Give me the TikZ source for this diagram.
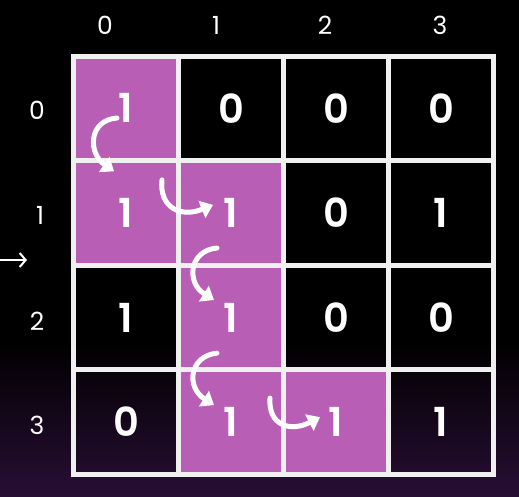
\documentclass[tikz,border=0pt]{standalone}
\usepackage{fontspec}
\setmainfont{Poppins}
\newfontfamily\numfont{Poppins SemiBold}
\usetikzlibrary{arrows.meta}
\definecolor{cellpurple}{RGB}{184,94,180}
\definecolor{gridwhite}{RGB}{240,240,240}
\definecolor{bgpurple}{RGB}{40,14,52}
\tikzset{
  cellbox/.style={minimum width=105pt,minimum height=104.6pt,inner sep=0pt,text=white,font=\fontsize{40}{40}\numfont},
  hl/.style={cellbox,fill=cellpurple},
  idxlabel/.style={text=white,font=\fontsize{25}{25}\selectfont,inner sep=0pt},
  curvearrow/.style={draw=white,line width=5pt,line cap=round,-{Triangle[width=18pt,length=12pt]}}
}
\begin{document}
\begin{tikzpicture}[x=1pt,y=-1pt]
\useasboundingbox (0,0) rectangle (519,496);
\fill[black] (0,0) rectangle (519,496);
\shade[top color=black,bottom color=bgpurple] (0,340) rectangle (519,496);
% cells
\node[hl] (c00) at (126,108.3) {1};
\node[cellbox] (c01) at (231,108.3) {0};
\node[cellbox] (c02) at (336,108.3) {0};
\node[cellbox] (c03) at (441,108.3) {0};
\node[hl] (c10) at (126,212.9) {1};
\node[hl] (c11) at (231,212.9) {1};
\node[cellbox] (c12) at (336,212.9) {0};
\node[cellbox] (c13) at (441,212.9) {1};
\node[cellbox] (c20) at (126,317.5) {1};
\node[hl] (c21) at (231,317.5) {1};
\node[cellbox] (c22) at (336,317.5) {0};
\node[cellbox] (c23) at (441,317.5) {0};
\node[cellbox] (c30) at (126,422.1) {0};
\node[hl] (c31) at (231,422.1) {1};
\node[hl] (c32) at (336,422.1) {1};
\node[cellbox] (c33) at (441,422.1) {1};
% grid lines
\foreach \i in {0,...,4}{
  \draw[gridwhite,line width=5pt] (73.5+105*\i,53.5) -- (73.5+105*\i,477);
  \draw[gridwhite,line width=5pt] (71,56+104.6*\i) -- (496,56+104.6*\i);
}
% index labels
\node[idxlabel] (h0) at (105,25) {0};
\node[idxlabel] (h1) at (216,25) {1};
\node[idxlabel] (h2) at (325,25) {2};
\node[idxlabel] (h3) at (440,25) {3};
\node[idxlabel] (r0) at (37,110) {0};
\node[idxlabel] (r1) at (40,215) {1};
\node[idxlabel] (r2) at (37,321) {2};
\node[idxlabel] (r3) at (37,425) {3};
% entry arrow
\coordinate (ea) at (0,260);
\coordinate (eb) at (27,260);
\draw[white,line width=2pt,-{Straight Barb[length=6pt,width=14pt]}] (ea) -- (eb);
% curved arrows
\draw[curvearrow] ([shift={(-9,9.7)}]c00.center) .. controls ([shift={(-38,12)}]c00.center) and ([shift={(-38,45)}]c00.center) .. ([shift={(-12,63)}]c00.center);
\draw[curvearrow] ([shift={(-69,-33)}]c11.center) .. controls ([shift={(-72,-5)}]c11.center) and ([shift={(-50,5)}]c11.center) .. ([shift={(-18,-8)}]c11.center);
\draw[curvearrow] ([shift={(-14,-69.5)}]c21.center) .. controls ([shift={(-42,-67)}]c21.center) and ([shift={(-45,-35)}]c21.center) .. ([shift={(-17,-17.5)}]c21.center);
\draw[curvearrow] ([shift={(-14,-69)}]c31.center) .. controls ([shift={(-42,-66)}]c31.center) and ([shift={(-45,-35)}]c31.center) .. ([shift={(-17,-17)}]c31.center);
\draw[curvearrow] ([shift={(-66,-24)}]c32.center) .. controls ([shift={(-68,4)}]c32.center) and ([shift={(-45,10)}]c32.center) .. ([shift={(-16,-5)}]c32.center);
\end{tikzpicture}
\end{document}
